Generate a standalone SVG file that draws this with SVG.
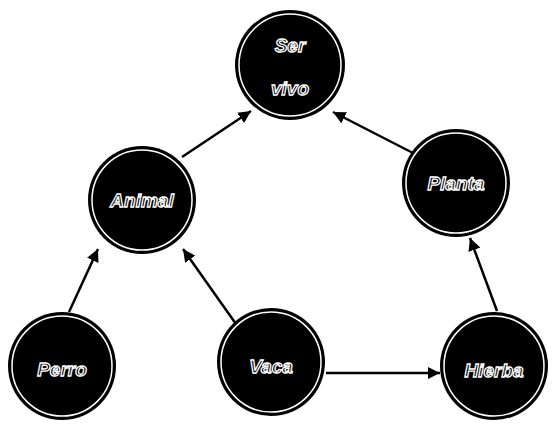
<svg xmlns="http://www.w3.org/2000/svg" width="552" height="426" viewBox="0 0 552 426">
<style>
.node circle.o{fill:#000;stroke:none}
.node circle.i{fill:none;stroke:#fff;stroke-width:1.5}
.node text{font-family:"Liberation Sans",Arial,sans-serif;font-size:19px;font-weight:bold;font-style:italic;fill:#000;stroke:#fff;stroke-width:1.3;text-anchor:middle;dominant-baseline:central}
.edge{stroke:#000;stroke-width:2.5;fill:none;marker-end:url(#ah)}
</style>
<defs>
<marker id="ah" viewBox="0 0 10 10" refX="10" refY="5" markerWidth="5" markerHeight="5" orient="auto" markerUnits="strokeWidth">
<path d="M0,0 L10,5 L0,10 z" fill="#000"/>
</marker>
</defs>
<rect width="552" height="426" fill="#fff"/>
<g id="connectors">
<line class="edge" x1="182" y1="157" x2="251" y2="111"/>
<line class="edge" x1="413" y1="153" x2="333" y2="112"/>
<line class="edge" x1="69" y1="312" x2="98" y2="249"/>
<line class="edge" x1="236" y1="324" x2="183" y2="249"/>
<line class="edge" x1="326" y1="373" x2="440" y2="373"/>
<line class="edge" x1="497" y1="311" x2="470" y2="238"/>
</g>
<g id="ser-vivo" class="node">
<circle class="o" cx="290" cy="65" r="55"/>
<circle class="i" cx="290" cy="65" r="51"/>
<text x="290" y="45">Ser</text>
<text x="290" y="88">vivo</text>
</g>
<g id="animal" class="node">
<circle class="o" cx="142" cy="200" r="54"/>
<circle class="i" cx="142" cy="200" r="50"/>
<text x="142" y="200">Animal</text>
</g>
<g id="planta" class="node">
<circle class="o" cx="456" cy="183" r="54"/>
<circle class="i" cx="456" cy="183" r="50"/>
<text x="456" y="183">Planta</text>
</g>
<g id="perro" class="node">
<circle class="o" cx="62" cy="366" r="54"/>
<circle class="i" cx="62" cy="366" r="50"/>
<text x="62" y="369">Perro</text>
</g>
<g id="vaca" class="node">
<circle class="o" cx="271" cy="362" r="54"/>
<circle class="i" cx="271" cy="362" r="50"/>
<text x="271" y="366">Vaca</text>
</g>
<g id="hierba" class="node">
<circle class="o" cx="494" cy="366" r="54"/>
<circle class="i" cx="494" cy="366" r="50"/>
<text x="494" y="370">Hierba</text>
</g>
</svg>
